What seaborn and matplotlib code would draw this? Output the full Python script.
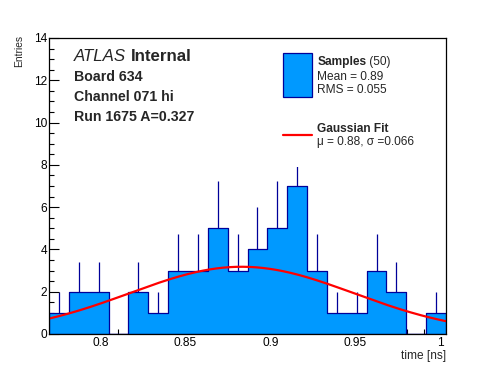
import numpy as np
import pandas as pd
import matplotlib
matplotlib.use("Agg")
import matplotlib.pyplot as plt
from matplotlib.patches import Rectangle
from matplotlib.ticker import MultipleLocator, FormatStrFormatter
import seaborn as sns

# histogram: 20 bins over the x range
x_lo, x_hi = 0.7697, 1.0032
entries = [1, 2, 2, 0, 2, 1, 3, 3, 5, 3, 4, 5, 7, 3, 1, 1, 3, 2, 0, 1]

# gaussian fit
fit_amp, fit_mu, fit_sigma = 3.18, 0.883, 0.066

board_lines = ["Board 634", "Channel 071 hi", "Run 1675 A=0.327"]
stats_lines = ["Mean = 0.89", "RMS = 0.055"]
fit_label = "\u03bc = 0.88, \u03c3 =0.066"

edges = np.linspace(x_lo, x_hi, len(entries) + 1)
centers = 0.5 * (edges[:-1] + edges[1:])
df = pd.DataFrame({"time": centers, "entries": entries})

sns.set_style("ticks")
plt.rcParams["font.family"] = ["Liberation Sans", "DejaVu Sans"]

fill_col = "#0099ff"
edge_col = "#000099"

fig = plt.figure(figsize=(4.96, 3.72), dpi=100)
ax = fig.add_axes([49 / 496, 1 - 334 / 372, 397 / 496, 296 / 372])

# error bars under the filled histogram
ax.errorbar(df["time"], df["entries"], yerr=np.sqrt(df["entries"]),
            fmt="none", ecolor=edge_col, elinewidth=0.9, zorder=0.5)

sns.histplot(data=df, x="time", weights="entries", bins=edges.tolist(),
             element="step", fill=True, color=fill_col, alpha=1,
             edgecolor=edge_col, linewidth=0.9, ax=ax)
for coll in ax.collections[1:]:
    coll.set_facecolor(fill_col)
    coll.set_zorder(1)
for ln in ax.lines:
    ln.set_color(edge_col)
    ln.set_zorder(1.5)

xs = np.linspace(x_lo, x_hi, 300)
ys = fit_amp * np.exp(-0.5 * ((xs - fit_mu) / fit_sigma) ** 2)
sns.lineplot(x=xs, y=ys, color="#ff0000", linewidth=1.6, ax=ax, zorder=3)

ax.set_xlim(x_lo, x_hi)
ax.set_ylim(0, 14)
ax.xaxis.set_major_locator(MultipleLocator(0.05))
ax.xaxis.set_minor_locator(MultipleLocator(0.01))
ax.yaxis.set_major_locator(MultipleLocator(2))
ax.yaxis.set_minor_locator(MultipleLocator(0.5))
ax.xaxis.set_major_formatter(FormatStrFormatter("%g"))
ax.yaxis.set_major_formatter(FormatStrFormatter("%g"))
ax.tick_params(which="both", direction="in", labelsize=8.6, colors="black", width=0.8)
ax.tick_params(which="major", length=7)
ax.tick_params(which="minor", length=3.8)
ax.tick_params(axis="x", pad=2.2)
ax.tick_params(axis="y", pad=1.5)
for sp in ax.spines.values():
    sp.set_visible(True)
    sp.set_color("black")
    sp.set_linewidth(0.9)
    sp.set_zorder(6)

ax.set_xlabel("time [ns]", fontsize=8.6, loc="right")
ax.xaxis.set_label_coords(1.0, -0.074)
ax.xaxis.label.set_va("center")
ax.set_ylabel("Entries", fontsize=7.4, loc="top")
ax.yaxis.set_label_coords(-0.075, 1.01)
ax.yaxis.label.set_va("center")

# white legend pad, as in the original it hides the top of one error bar
ax.add_patch(Rectangle((0.58, 0.565), 0.415, 0.43, transform=ax.transAxes,
                       facecolor="white", edgecolor="none", zorder=4))

t = ax.text(0.063, 0.937, "ATLAS", transform=ax.transAxes, fontsize=12.2,
            style="italic", va="center", ha="left", zorder=5)
ax.annotate("Internal", xy=(1, 0), xycoords=t, xytext=(3.5, 0),
            textcoords="offset points", fontsize=12.2, fontweight="bold",
            va="bottom", ha="left", zorder=5)
for i, s in enumerate(board_lines):
    ax.text(0.063, 0.869 - i * 0.0675, s, transform=ax.transAxes, fontsize=10.2,
            fontweight="bold", va="center", ha="left", zorder=5)

# legend entries
ax.add_patch(Rectangle((0.590, 0.802), 0.072, 0.146, transform=ax.transAxes,
                       facecolor=fill_col, edgecolor=edge_col, linewidth=0.9, zorder=5))
s1 = ax.text(0.676, 0.920, "Samples", transform=ax.transAxes, fontsize=8.6,
             fontweight="bold", va="center", ha="left", zorder=5)
ax.annotate(" (50)", xy=(1, 0), xycoords=s1, xytext=(0, 0),
            textcoords="offset points", fontsize=8.6, va="bottom", ha="left", zorder=5)
for i, s in enumerate(stats_lines):
    ax.text(0.676, 0.869 - i * 0.045, s, transform=ax.transAxes, fontsize=8.6,
            va="center", ha="left", zorder=5)

ax.plot([0.590, 0.662], [0.672, 0.672], transform=ax.transAxes,
        color="#ff0000", linewidth=1.6, zorder=5)
ax.text(0.676, 0.692, "Gaussian Fit", transform=ax.transAxes, fontsize=8.6,
        fontweight="bold", va="center", ha="left", zorder=5)
ax.text(0.676, 0.650, fit_label, transform=ax.transAxes, fontsize=8.6,
        va="center", ha="left", zorder=5)

fig.savefig("out.png", dpi=100, facecolor="white")
